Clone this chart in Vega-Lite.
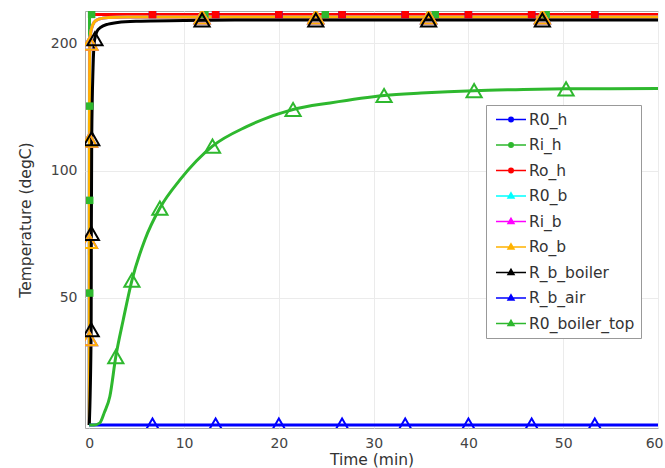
{
  "$schema": "https://vega.github.io/schema/vega-lite/v6.json",
  "width": 573,
  "height": 417,
  "autosize": {"type": "none"},
  "padding": {"left": 85, "top": 11, "right": 7, "bottom": 40},
  "background": "white",
  "config": {
    "font": "DejaVu Sans",
    "view": {"stroke": "#aaaaaa", "strokeWidth": 1},
    "axis": {
      "grid": true, "gridColor": "#ebebeb", "gridWidth": 1,
      "ticks": false, "tickSize": 0, "domain": false,
      "labelFont": "DejaVu Sans", "labelFontSize": 14, "labelColor": "#444444",
      "titleFont": "DejaVu Sans", "titleFontSize": 15.5, "titleFontWeight": "normal", "titleColor": "#333333"
    }
  },
  "datasets": {
    "lines": [
      {"series": "R0_h", "t": 0, "v": 234}, {"series": "R0_h", "t": 60, "v": 234},
      {"series": "Ri_h", "t": 0, "v": 25}, {"series": "Ri_h", "t": 0.03, "v": 234}, {"series": "Ri_h", "t": 60, "v": 234},
      {"series": "Ro_h", "t": 0, "v": 234}, {"series": "Ro_h", "t": 60, "v": 234},
      {"series": "R0_b", "t": 0, "v": 25}, {"series": "R0_b", "t": 0.02, "v": 125}, {"series": "R0_b", "t": 0.05, "v": 200}, {"series": "R0_b", "t": 0.2, "v": 215}, {"series": "R0_b", "t": 0.5, "v": 224}, {"series": "R0_b", "t": 1, "v": 228}, {"series": "R0_b", "t": 2, "v": 230}, {"series": "R0_b", "t": 4, "v": 230.8}, {"series": "R0_b", "t": 60, "v": 230.8},
      {"series": "Ri_b", "t": 0, "v": 25}, {"series": "Ri_b", "t": 0.02, "v": 125}, {"series": "Ri_b", "t": 0.05, "v": 200}, {"series": "Ri_b", "t": 0.2, "v": 215}, {"series": "Ri_b", "t": 0.5, "v": 224}, {"series": "Ri_b", "t": 1, "v": 228}, {"series": "Ri_b", "t": 2, "v": 230}, {"series": "Ri_b", "t": 4, "v": 230.8}, {"series": "Ri_b", "t": 60, "v": 230.8},
      {"series": "Ro_b", "t": 0, "v": 25}, {"series": "Ro_b", "t": 0.02, "v": 125}, {"series": "Ro_b", "t": 0.05, "v": 200}, {"series": "Ro_b", "t": 0.2, "v": 215}, {"series": "Ro_b", "t": 0.5, "v": 224}, {"series": "Ro_b", "t": 1, "v": 228}, {"series": "Ro_b", "t": 2, "v": 230}, {"series": "Ro_b", "t": 4, "v": 230.8}, {"series": "Ro_b", "t": 60, "v": 230.8},
      {"series": "R_b_boiler", "t": 0, "v": 25}, {"series": "R_b_boiler", "t": 0.2, "v": 42}, {"series": "R_b_boiler", "t": 0.22, "v": 71}, {"series": "R_b_boiler", "t": 0.26, "v": 119}, {"series": "R_b_boiler", "t": 0.4, "v": 175}, {"series": "R_b_boiler", "t": 0.55, "v": 203}, {"series": "R_b_boiler", "t": 0.8, "v": 213}, {"series": "R_b_boiler", "t": 1.2, "v": 218}, {"series": "R_b_boiler", "t": 2, "v": 222}, {"series": "R_b_boiler", "t": 3, "v": 224}, {"series": "R_b_boiler", "t": 5, "v": 225.5}, {"series": "R_b_boiler", "t": 10, "v": 226.5}, {"series": "R_b_boiler", "t": 20, "v": 227}, {"series": "R_b_boiler", "t": 60, "v": 227},
      {"series": "R_b_air", "t": 0, "v": 25}, {"series": "R_b_air", "t": 60, "v": 25},
      {"series": "R0_boiler_top", "t": 0, "v": 25}, {"series": "R0_boiler_top", "t": 0.5, "v": 25}, {"series": "R0_boiler_top", "t": 1.12, "v": 25.3}, {"series": "R0_boiler_top", "t": 1.6, "v": 26.8}, {"series": "R0_boiler_top", "t": 2.17, "v": 29.2}, {"series": "R0_boiler_top", "t": 2.8, "v": 36.3}, {"series": "R0_boiler_top", "t": 3.58, "v": 44.3}, {"series": "R0_boiler_top", "t": 4.5, "v": 55}, {"series": "R0_boiler_top", "t": 5.86, "v": 68.5}, {"series": "R0_boiler_top", "t": 7.45, "v": 81.5}, {"series": "R0_boiler_top", "t": 9.56, "v": 95}, {"series": "R0_boiler_top", "t": 13, "v": 114.2}, {"series": "R0_boiler_top", "t": 16.6, "v": 127}, {"series": "R0_boiler_top", "t": 21.5, "v": 139.4}, {"series": "R0_boiler_top", "t": 25.4, "v": 144.5}, {"series": "R0_boiler_top", "t": 31.1, "v": 150.5}, {"series": "R0_boiler_top", "t": 35, "v": 152.5}, {"series": "R0_boiler_top", "t": 40.6, "v": 154.5}, {"series": "R0_boiler_top", "t": 45, "v": 155.3}, {"series": "R0_boiler_top", "t": 50.3, "v": 156}, {"series": "R0_boiler_top", "t": 55, "v": 156.2}, {"series": "R0_boiler_top", "t": 60, "v": 156.3}
    ],
    "squares": [
      {"series": "R0_h", "t": 6.67, "v": 234}, {"series": "R0_h", "t": 13.33, "v": 234}, {"series": "R0_h", "t": 20, "v": 234}, {"series": "R0_h", "t": 26.67, "v": 234}, {"series": "R0_h", "t": 33.33, "v": 234}, {"series": "R0_h", "t": 40, "v": 234}, {"series": "R0_h", "t": 46.67, "v": 234}, {"series": "R0_h", "t": 53.33, "v": 234},
      {"series": "Ri_h", "t": 0.05, "v": 51.3}, {"series": "Ri_h", "t": 0.05, "v": 85}, {"series": "Ri_h", "t": 0.05, "v": 142}, {"series": "Ri_h", "t": 0.25, "v": 234}, {"series": "Ri_h", "t": 12.2, "v": 234}, {"series": "Ri_h", "t": 24.9, "v": 234}, {"series": "Ri_h", "t": 36.5, "v": 234}, {"series": "Ri_h", "t": 48.2, "v": 234},
      {"series": "Ro_h", "t": 6.67, "v": 234}, {"series": "Ro_h", "t": 13.33, "v": 234}, {"series": "Ro_h", "t": 20, "v": 234}, {"series": "Ro_h", "t": 26.67, "v": 234}, {"series": "Ro_h", "t": 33.33, "v": 234}, {"series": "Ro_h", "t": 40, "v": 234}, {"series": "Ro_h", "t": 46.67, "v": 234}, {"series": "Ro_h", "t": 53.33, "v": 234}
    ],
    "triangles": [
      {"series": "R0_b", "t": 0.01, "v": 40}, {"series": "R0_b", "t": 0.01, "v": 68}, {"series": "R0_b", "t": 0.02, "v": 118}, {"series": "R0_b", "t": 0.06, "v": 200}, {"series": "R0_b", "t": 11.9, "v": 230.8}, {"series": "R0_b", "t": 23.9, "v": 230.8}, {"series": "R0_b", "t": 35.8, "v": 230.8}, {"series": "R0_b", "t": 47.8, "v": 230.8},
      {"series": "Ri_b", "t": 0.01, "v": 40}, {"series": "Ri_b", "t": 0.01, "v": 68}, {"series": "Ri_b", "t": 0.02, "v": 118}, {"series": "Ri_b", "t": 0.06, "v": 200}, {"series": "Ri_b", "t": 11.9, "v": 230.8}, {"series": "Ri_b", "t": 23.9, "v": 230.8}, {"series": "Ri_b", "t": 35.8, "v": 230.8}, {"series": "Ri_b", "t": 47.8, "v": 230.8},
      {"series": "Ro_b", "t": 0.01, "v": 40}, {"series": "Ro_b", "t": 0.01, "v": 68}, {"series": "Ro_b", "t": 0.02, "v": 118}, {"series": "Ro_b", "t": 0.06, "v": 200}, {"series": "Ro_b", "t": 11.9, "v": 230.8}, {"series": "Ro_b", "t": 23.9, "v": 230.8}, {"series": "Ro_b", "t": 35.8, "v": 230.8}, {"series": "Ro_b", "t": 47.8, "v": 230.8},
      {"series": "R_b_boiler", "t": 0.2, "v": 42}, {"series": "R_b_boiler", "t": 0.22, "v": 71}, {"series": "R_b_boiler", "t": 0.26, "v": 119}, {"series": "R_b_boiler", "t": 0.6, "v": 205}, {"series": "R_b_boiler", "t": 11.9, "v": 227}, {"series": "R_b_boiler", "t": 23.9, "v": 227}, {"series": "R_b_boiler", "t": 35.8, "v": 227}, {"series": "R_b_boiler", "t": 47.8, "v": 227},
      {"series": "R_b_air", "t": 6.67, "v": 25}, {"series": "R_b_air", "t": 13.33, "v": 25}, {"series": "R_b_air", "t": 20, "v": 25}, {"series": "R_b_air", "t": 26.67, "v": 25}, {"series": "R_b_air", "t": 33.33, "v": 25}, {"series": "R_b_air", "t": 40, "v": 25}, {"series": "R_b_air", "t": 46.67, "v": 25}, {"series": "R_b_air", "t": 53.33, "v": 25},
      {"series": "R0_boiler_top", "t": 2.8, "v": 36.3}, {"series": "R0_boiler_top", "t": 4.5, "v": 55}, {"series": "R0_boiler_top", "t": 7.45, "v": 81.5}, {"series": "R0_boiler_top", "t": 13, "v": 114.2}, {"series": "R0_boiler_top", "t": 21.5, "v": 139.4}, {"series": "R0_boiler_top", "t": 31.1, "v": 150.5}, {"series": "R0_boiler_top", "t": 40.6, "v": 154.5}, {"series": "R0_boiler_top", "t": 50.3, "v": 156}
    ]
  },
  "encoding": {
    "x": {
      "field": "t", "type": "quantitative",
      "scale": {"domain": [-0.45, 60], "nice": false, "zero": false},
      "axis": {"title": "Time (min)", "values": [0, 10, 20, 30, 40, 50, 60], "labelPadding": 8, "titlePadding": 2, "labelFlush": 2, "labelFlushOffset": 5}
    },
    "y": {
      "field": "v", "type": "quantitative",
      "scale": {"type": "log", "domain": [24.6, 238.4], "nice": false},
      "axis": {"title": "Temperature (degC)", "values": [50, 100, 200], "labelPadding": 8, "titlePadding": 17}
    },
    "color": {
      "field": "series", "type": "nominal",
      "scale": {
        "domain": ["R0_h", "Ri_h", "Ro_h", "R0_b", "Ri_b", "Ro_b", "R_b_boiler", "R_b_air", "R0_boiler_top"],
        "range": ["#0000ff", "#2eb82e", "#ff0000", "#00ffff", "#ff00ff", "#ffb300", "#000000", "#0000ff", "#2eb82e"]
      }
    }
  },
  "layer": [
    {
      "data": {"name": "lines"},
      "mark": {"type": "line", "strokeWidth": 3, "clip": true, "interpolate": "monotone"},
      "encoding": {
        "color": {
          "field": "series", "type": "nominal",
          "legend": {
            "title": null, "orient": "none", "legendX": 401, "legendY": 94,
            "symbolSize": 225, "labelFontSize": 15.5, "labelFont": "DejaVu Sans", "labelColor": "#333333",
            "labelOffset": 20, "rowPadding": 8.5, "padding": 6,
            "strokeColor": "#999999", "fillColor": "white",
            "encode": {
              "symbols": {
                "update": {
                  "shape": {"signal": "indexof(['R0_h','Ri_h','Ro_h'], datum.value) >= 0 ? 'M-0.6,0H3.4M1.7,0A0.3,0.3,0,1,1,1.1,0A0.3,0.3,0,1,1,1.7,0Z' : 'M-0.6,0H3.4M1.4,-0.42L1.8,0.28L1,0.28Z'"},
                  "fill": {"scale": "color", "field": "value"},
                  "stroke": {"scale": "color", "field": "value"},
                  "strokeWidth": {"value": 1.5},
                  "opacity": {"value": 1}
                }
              }
            }
          }
        }
      }
    },
    {
      "data": {"name": "squares"},
      "mark": {"type": "point", "shape": "square", "filled": true, "size": 56, "opacity": 1, "clip": true}
    },
    {
      "data": {"name": "triangles"},
      "mark": {"type": "point", "shape": "triangle-up", "filled": false, "size": 230, "strokeWidth": 2, "opacity": 1, "clip": true}
    }
  ]
}
